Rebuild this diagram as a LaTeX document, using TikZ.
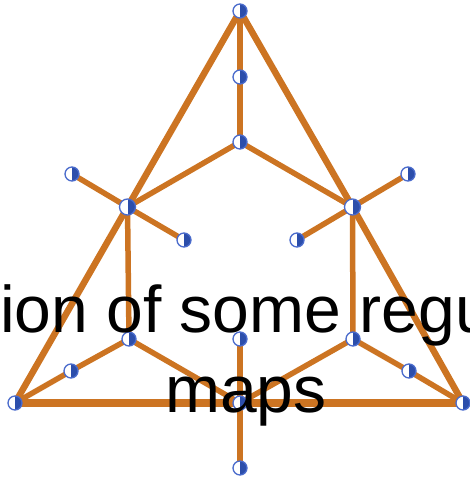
\documentclass[tikz,border=0pt]{standalone}
\usepackage{fontspec}
\setmainfont{Liberation Sans}
\definecolor{edgeor}{HTML}{CC7422}
\definecolor{vring}{HTML}{4A6BCC}
\definecolor{vfill}{HTML}{2C4EAB}
\tikzset{
  vtx/.style={circle, minimum size=14pt, inner sep=0pt, draw=vring, line width=1.3pt, fill=white,
    path picture={\fill[vfill] (path picture bounding box.north) rectangle (path picture bounding box.south east);}},
  bigvtx/.style={vtx, minimum size=16pt},
  edg/.style={draw=edgeor, line width=5.5pt},
  side/.style={draw=edgeor, line width=6.5pt},
  base/.style={draw=edgeor, line width=8.5pt},
  title/.style={font=\fontsize{66}{80}\selectfont, inner sep=0pt, text=black}
}
\begin{document}
\begin{tikzpicture}[x=1pt,y=-1pt]
\useasboundingbox (0,0) rectangle (470,482);
% coordinates of vertices
\coordinate (pT) at (240,11);
\coordinate (pm1) at (240,77);
\coordinate (pm2) at (240,142);
\coordinate (pL) at (127.5,207);
\coordinate (pR) at (352.5,207);
\coordinate (pla) at (72,174);
\coordinate (plb) at (184,240);
\coordinate (pra) at (408,174);
\coordinate (prb) at (297,240);
\coordinate (pl3) at (129,339);
\coordinate (pc3) at (240,339);
\coordinate (pr3) at (353,339);
\coordinate (pl4) at (71,371);
\coordinate (pr4) at (409,371);
\coordinate (pBL) at (15,403);
\coordinate (pC) at (240,403);
\coordinate (pBR) at (463,403);
\coordinate (pB) at (240,468);
% edges
\draw[side] (pT) -- (pL);
\draw[side] (pL) -- (pBL);
\draw[side] (pT) -- (pR);
\draw[side] (pR) -- (pBR);
\draw[base] (pBL) -- (pC);
\draw[base] (pC) -- (pBR);
\draw[edg] (pT) -- (pm1);
\draw[edg] (pm1) -- (pm2);
\draw[edg] (pm2) -- (pL);
\draw[edg] (pm2) -- (pR);
\draw[edg] (pL) -- (pla);
\draw[edg] (pL) -- (plb);
\draw[edg] (pR) -- (pra);
\draw[edg] (pR) -- (prb);
\draw[edg] (pL) -- (pl3);
\draw[edg] (pR) -- (pr3);
\draw[edg] (pl3) -- (pl4);
\draw[edg] (pl4) -- (pBL);
\draw[edg] (pl3) -- (pC);
\draw[edg] (pr3) -- (pr4);
\draw[edg] (pr4) -- (pBR);
\draw[edg] (pr3) -- (pC);
\draw[side] (pc3) -- (pC);
\draw[side] (pC) -- (pB);
% vertices
\node[vtx] (T) at (pT) {};
\node[vtx] (m1) at (pm1) {};
\node[vtx] (m2) at (pm2) {};
\node[bigvtx] (L) at (pL) {};
\node[bigvtx] (R) at (pR) {};
\node[vtx] (la) at (pla) {};
\node[vtx] (lb) at (plb) {};
\node[vtx] (ra) at (pra) {};
\node[vtx] (rb) at (prb) {};
\node[vtx] (l3) at (pl3) {};
\node[vtx] (c3) at (pc3) {};
\node[vtx] (r3) at (pr3) {};
\node[vtx] (l4) at (pl4) {};
\node[vtx] (r4) at (pr4) {};
\node[vtx] (BL) at (pBL) {};
\node[vtx] (C) at (pC) {};
\node[vtx] (BR) at (pBR) {};
\node[vtx] (B) at (pB) {};
% title text
\node[title, anchor=base west] (line1) at (0,332) {ion of some regu};
\node[title, anchor=base] (line2) at (246,412) {maps};
\end{tikzpicture}
\end{document}
